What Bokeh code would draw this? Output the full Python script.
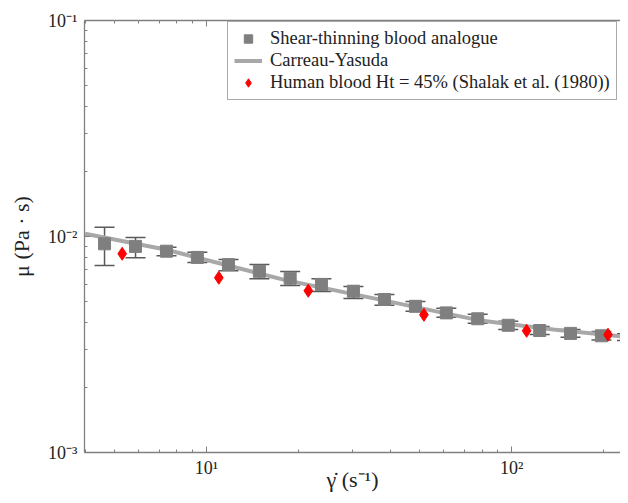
from bokeh.plotting import figure
from bokeh.models import (ColumnDataSource, Whisker, TeeHead, LogAxis, Range1d,
                          CustomJSTickFormatter, Legend, LegendItem, FixedTicker)
from bokeh.embed import file_html
from bokeh.resources import INLINE

# ---- data ----
gray_x = [4.63, 5.85, 7.39, 9.33, 11.8, 14.9, 18.8, 23.8, 30.3, 38.3, 48.4,
          61.1, 77.4, 97.5, 123.6, 156, 197, 239]
gray_y = [0.00925, 0.0090, 0.00855, 0.0080, 0.00741, 0.00690, 0.00641, 0.00600,
          0.00558, 0.00511, 0.00475, 0.00443, 0.00416, 0.00388, 0.00367, 0.00356,
          0.00347, 0.00342]
gray_hi = [0.01104, 0.00990, 0.00892, 0.00846, 0.00782, 0.00742, 0.00689, 0.00637,
           0.00587, 0.00539, 0.00500, 0.00466, 0.00436, 0.00405, 0.00383, 0.00371,
           0.00363, 0.00355]
gray_lo = [0.00734, 0.00797, 0.00814, 0.00758, 0.00694, 0.00637, 0.00593, 0.00556,
           0.00516, 0.00481, 0.00451, 0.00423, 0.00397, 0.00371, 0.00352, 0.00342,
           0.00332, 0.00330]

fit_x = [4.0, 7.39, 18.0, 37.0, 79.1, 137, 242]
fit_y = [0.01029, 0.00868, 0.00630, 0.00510, 0.00408, 0.00371, 0.00342]

red_x = [5.29, 10.97, 21.55, 51.6, 112, 207]
red_y = [0.00832, 0.00644, 0.00561, 0.00434, 0.00366, 0.00351]

x_major = [10, 100]
y_major = [0.001, 0.01, 0.1]
decades = [-3, -2, -1, 0, 1, 2]
minor = [k * 10.0 ** d for d in decades for k in range(2, 10)]

x_start, x_end = 3.98, 227.5
y_start, y_end = 0.001, 0.1

FONT = "Liberation Serif"
AX = "#808080"
TXT = "#222222"

W, H = 620, 495
p = figure(width=W, height=H, x_axis_type="log", y_axis_type="log",
           x_range=Range1d(x_start, x_end), y_range=Range1d(y_start, y_end),
           output_backend="svg", toolbar_location=None,
           min_border_left=84, min_border_top=20, min_border_bottom=43,
           min_border_right=0)
p.grid.visible = False
p.outline_line_color = None
p.background_fill_color = "white"
p.border_fill_color = "white"

sup_code = """
const e = Math.round(Math.log10(tick));
const m = {'-':'\u207b','0':'\u2070','1':'\u00b9','2':'\u00b2','3':'\u00b3','4':'\u2074',
           '5':'\u2075','6':'\u2076','7':'\u2077','8':'\u2078','9':'\u2079'};
return '10' + String(e).split('').map(c => m[c]).join('');
"""

def style(ax):
    ax.axis_line_color = AX
    ax.axis_line_width = 1.3
    ax.major_tick_line_color = AX
    ax.minor_tick_line_color = AX
    ax.major_tick_in = 6
    ax.major_tick_out = 0
    ax.minor_tick_in = 3
    ax.minor_tick_out = 0

p.xaxis[0].ticker = FixedTicker(ticks=x_major, minor_ticks=minor)
p.yaxis[0].ticker = FixedTicker(ticks=y_major, minor_ticks=minor)
for ax in (p.xaxis[0], p.yaxis[0]):
    style(ax)
    ax.formatter = CustomJSTickFormatter(code=sup_code)
    ax.major_label_text_font = FONT
    ax.major_label_text_font_size = "18px"
    ax.major_label_text_color = TXT
    ax.axis_label_text_font = FONT
    ax.axis_label_text_font_size = "22px"
    ax.axis_label_text_font_style = "normal"
    ax.axis_label_text_color = TXT
p.xaxis[0].major_label_standoff = 5
p.yaxis[0].major_label_standoff = 7
p.xaxis[0].axis_label = "\u03b3\u0307 (s\u207b\u00b9)"
p.yaxis[0].axis_label = "\u03bc (Pa \u00b7 s)"
p.xaxis[0].axis_label_standoff = -14
p.yaxis[0].axis_label_standoff = 11

top = LogAxis(ticker=FixedTicker(ticks=x_major, minor_ticks=minor),
              formatter=CustomJSTickFormatter(code="return ''"),
              major_label_standoff=0, major_label_text_font_size="1px")
style(top)
p.add_layout(top, "above")

# Carreau-Yasuda fit line
fit = p.line(fit_x, fit_y, line_color="#a8a8a8", line_width=4)

# Error bars
src = ColumnDataSource(dict(x=gray_x, y=gray_y, hi=gray_hi, lo=gray_lo))
wh = Whisker(base="x", upper="hi", lower="lo", source=src,
             line_color="#5a5a5a", line_width=1.5,
             upper_head=TeeHead(size=20, line_color="#5a5a5a", line_width=1.5),
             lower_head=TeeHead(size=20, line_color="#5a5a5a", line_width=1.5))
p.add_layout(wh)

sq = p.scatter("x", "y", source=src, marker="square", size=12,
               fill_color="#7f7f7f", line_color="#7f7f7f")

rd = p.scatter(red_x, red_y, marker="diamond", size=13,
               fill_color="#ff0000", line_color="#ff0000")

legend = Legend(items=[
    LegendItem(label="Shear-thinning blood analogue", renderers=[sq]),
    LegendItem(label="Carreau-Yasuda", renderers=[fit]),
    LegendItem(label="Human blood Ht = 45% (Shalak et al. (1980))", renderers=[rd]),
], location=(143, 352))
legend.label_text_font = FONT
legend.label_text_font_size = "18.5px"
legend.label_text_color = TXT
legend.border_line_color = "#555555"
legend.border_line_width = 1
legend.background_fill_color = "white"
legend.background_fill_alpha = 1
legend.padding = 6
legend.spacing = 1
legend.margin = 0
legend.label_height = 21
legend.glyph_height = 21
legend.glyph_width = 28
legend.label_standoff = 8
p.add_layout(legend)

open("out.html", "w").write(file_html(p, INLINE))
